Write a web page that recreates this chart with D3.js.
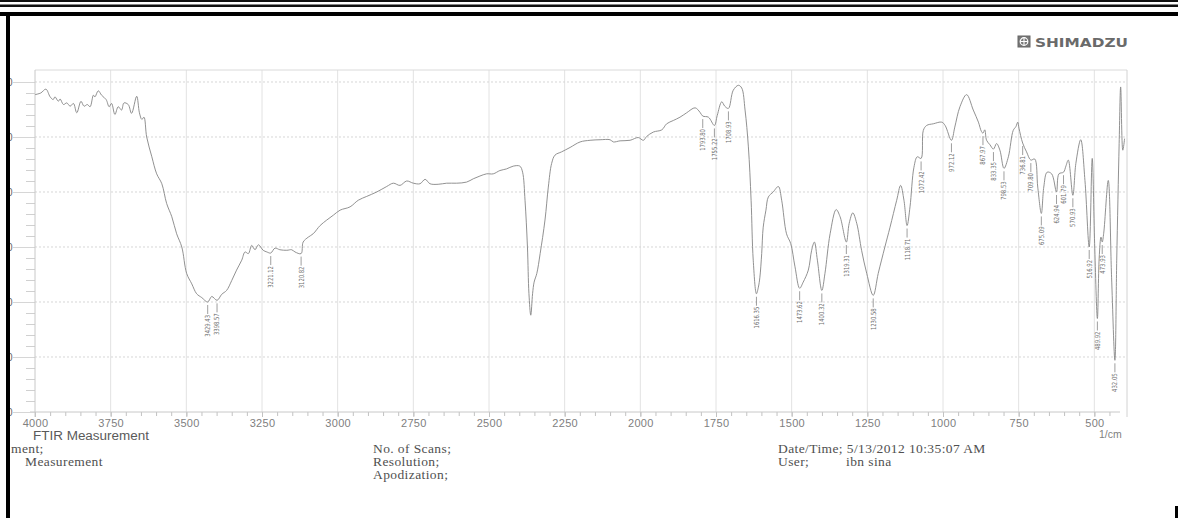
<!DOCTYPE html>
<html>
<head>
<meta charset="utf-8">
<script src="https://cdn.jsdelivr.net/npm/d3@7"></script>
<style>
  html, body { margin: 0; padding: 0; background: #fff; }
  svg { display: block; }
</style>
</head>
<body>
<svg id="chart" width="1178" height="518"></svg>
<script>
// FTIR transmittance spectrum (wavenumber in 1/cm, %T)
const wavenumbers = [
  4000, 3981, 3964, 3950, 3940, 3934, 3923, 3917, 3906, 3895, 3884, 3873, 3862, 3848, 3838, 3827,
  3818, 3807, 3802, 3791, 3780, 3765, 3755, 3747, 3736, 3725, 3714, 3706, 3692, 3681, 3664, 3655,
  3647, 3640, 3631, 3614, 3598, 3581, 3565, 3548, 3532, 3515, 3499, 3482, 3466, 3449, 3429.43, 3416,
  3398.57, 3383, 3367, 3350, 3334, 3317, 3306, 3295, 3284, 3273, 3262, 3246, 3234, 3221.12, 3207, 3191,
  3168, 3152, 3141, 3120.82, 3114, 3097, 3081, 3058, 3036, 3014, 2992, 2959, 2932, 2904, 2871, 2838,
  2816, 2794, 2772, 2750, 2728, 2711, 2695, 2668, 2640, 2607, 2574, 2552, 2530, 2508, 2486, 2464,
  2442, 2420, 2398, 2389, 2381, 2373, 2368, 2362, 2356, 2351, 2342, 2331, 2315, 2304, 2293, 2282,
  2260, 2232, 2199, 2166, 2133, 2100, 2089, 2067, 2034, 2007, 1990, 1979, 1957, 1929, 1913, 1891,
  1869, 1847, 1819, 1803, 1793.80, 1775, 1755.22, 1746, 1731, 1721, 1708.93, 1693, 1676, 1665, 1654, 1643,
  1634, 1627, 1616.35, 1610, 1605, 1599, 1594, 1585, 1577, 1561, 1544, 1533, 1517, 1503, 1489, 1473.62,
  1462, 1445, 1434, 1425, 1415, 1400.32, 1390, 1373, 1353, 1340, 1319.31, 1310, 1298, 1285, 1269, 1252,
  1230.58, 1214, 1192, 1175, 1153, 1140, 1129, 1118.71, 1109, 1096, 1085, 1072.42, 1065, 1054, 1032, 1004,
  993, 972.12, 961, 944, 922, 900, 883, 873, 867.97, 862, 856, 845, 833.35, 823, 812, 798.53,
  784, 768, 759, 753, 749, 736.81, 724, 709.80, 697, 687, 675.09, 667, 656, 641, 624.94, 617,
  601.79, 594, 586, 570.93, 561, 545, 531, 516.92, 507, 499, 489.92, 484, 478, 473.93, 469, 454,
  443, 432.05, 426, 418, 413, 406, 400
];
const transmittance = [
  57.7, 58.0, 58.7, 57.3, 56.8, 57.3, 56.5, 56.9, 55.9, 56.2, 55.6, 56.1, 54.4, 56.5, 55.6, 55.9,
  55.5, 57.6, 57.3, 58.4, 57.6, 56.8, 55.5, 56.1, 54.1, 55.5, 54.9, 56.2, 55.9, 54.3, 57.4, 54.4,
  53.2, 53.6, 50.0, 46.4, 43.3, 41.5, 37.9, 35.5, 32.4, 30.0, 25.2, 23.3, 21.5, 20.8, 20.0, 21.0,
  20.3, 21.4, 22.1, 23.9, 25.8, 27.6, 29.1, 28.8, 30.3, 29.5, 30.4, 29.4, 29.1, 28.9, 29.8, 29.5,
  29.4, 29.5, 29.1, 28.8, 30.9, 31.8, 32.4, 33.9, 34.9, 35.8, 36.7, 37.3, 38.5, 39.2, 40.0, 41.0,
  41.6, 41.2, 42.0, 41.6, 41.5, 42.3, 41.5, 41.4, 41.6, 41.6, 41.8, 42.4, 42.9, 43.3, 43.3, 43.9,
  44.2, 44.7, 44.7, 43.6, 38.5, 30.0, 21.5, 17.6, 21.5, 23.6, 25.2, 28.8, 34.9, 40.9, 45.2, 46.7,
  47.3, 48.1, 49.1, 49.4, 49.5, 49.5, 49.1, 49.3, 49.4, 49.9, 49.4, 50.1, 50.9, 51.3, 52.4, 53.0,
  53.6, 54.4, 55.3, 54.5, 53.8, 53.6, 52.1, 53.9, 56.4, 55.6, 55.2, 58.5, 59.4, 58.9, 54.9, 48.2,
  38.5, 27.6, 21.5, 22.7, 24.5, 28.8, 33.6, 36.7, 39.1, 40.0, 41.0, 38.5, 32.4, 30.6, 26.4, 22.5,
  23.6, 25.8, 29.4, 30.9, 27.6, 22.1, 25.2, 32.4, 36.8, 35.5, 30.9, 34.3, 36.2, 34.3, 29.4, 25.2,
  21.2, 25.2, 30.0, 33.6, 38.5, 41.2, 38.5, 33.9, 37.3, 44.5, 46.4, 46.1, 51.2, 52.1, 52.4, 52.7,
  52.1, 49.4, 51.8, 55.5, 57.7, 54.9, 52.7, 51.0, 50.7, 51.3, 49.4, 48.6, 47.8, 48.8, 47.6, 44.3,
  46.4, 51.2, 51.9, 52.7, 51.6, 48.9, 47.3, 45.8, 46.0, 40.9, 36.1, 40.9, 43.6, 43.3, 40.0, 43.3,
  43.6, 44.7, 45.8, 39.4, 45.2, 49.5, 42.1, 30.0, 46.1, 30.6, 17.0, 28.0, 31.8, 30.9, 32.5, 42.1,
  24.5, 9.4, 27.6, 48.8, 59.1, 47.6, 49.7
];
// picked peaks (labelled wavenumbers)
const peakWavenumbers = [
  3429.43, 3398.57, 3221.12, 3120.82, 1793.80, 1755.22, 1708.93, 1616.35, 1473.62, 1400.32,
  1319.31, 1230.58, 1118.71, 1072.42, 972.12, 867.97, 833.35, 798.53, 736.81, 709.80,
  675.09, 624.94, 601.79, 570.93, 516.92, 489.92, 473.93, 432.05
];
const xMajorTicks = [4000, 3750, 3500, 3250, 3000, 2750, 2500, 2250, 2000, 1750, 1500, 1250, 1000, 750, 500];
const yMajorTicks = [0, 10, 20, 30, 40, 50, 60];
const xUnitLabel = "1/cm";
const measurementTitle = "FTIR Measurement";
const infoLeft = ["ment;", "Measurement"];
const infoMiddle = ["No. of Scans;", "Resolution;", "Apodization;"];
const infoRight = ["Date/Time; 5/13/2012 10:35:07 AM", "User;"];
const userName = "ibn sina";
const brandName = "SHIMADZU";

const svg = d3.select("#chart");
const plot = { left: 35, right: 1127, top: 70, bottom: 412 };

const x = d3.scaleLinear().domain([4000, 400]).range([plot.left, 1124.6]);
const y = d3.scaleLinear().domain([0, 62.18]).range([plot.bottom, plot.top]);

// page border strokes
svg.append("rect").attr("x", 0).attr("y", 0).attr("width", 1178).attr("height", 2).attr("fill", "#111");
svg.append("rect").attr("x", 0).attr("y", 4.5).attr("width", 1178).attr("height", 2.5).attr("fill", "#111");
svg.append("rect").attr("x", 0).attr("y", 12).attr("width", 1178).attr("height", 4).attr("fill", "#000");
svg.append("rect").attr("x", 1175).attr("y", 506).attr("width", 3).attr("height", 12).attr("fill", "#000");

// brand logo
const logo = svg.append("g").attr("transform", "translate(1018,36)");
logo.append("rect").attr("width", 12).attr("height", 11).attr("fill", "#777").attr("stroke", "#666");
logo.append("circle").attr("cx", 6).attr("cy", 5.5).attr("r", 3.8).attr("fill", "none").attr("stroke", "#fff").attr("stroke-width", 1.2);
logo.append("line").attr("x1", 6).attr("x2", 6).attr("y1", 1.7).attr("y2", 9.3).attr("stroke", "#fff").attr("stroke-width", 1.1);
logo.append("line").attr("x1", 2.2).attr("x2", 9.8).attr("y1", 5.5).attr("y2", 5.5).attr("stroke", "#fff").attr("stroke-width", 1.1);
svg.append("text").attr("x", 1035).attr("y", 47)
  .attr("font-family", "DejaVu Sans, sans-serif").attr("font-weight", "bold").attr("font-size", 12.5)
  .attr("fill", "#6a6a6a").attr("textLength", 93).attr("lengthAdjust", "spacingAndGlyphs")
  .text(brandName);

// grid
const grid = svg.append("g");
grid.selectAll("line.v").data(xMajorTicks.slice(1)).join("line")
  .attr("x1", d => x(d)).attr("x2", d => x(d))
  .attr("y1", plot.top).attr("y2", plot.bottom)
  .attr("stroke", "#e2e2e2").attr("stroke-width", 1);
grid.selectAll("line.h").data(yMajorTicks.slice(1)).join("line")
  .attr("x1", plot.left).attr("x2", plot.right)
  .attr("y1", d => y(d)).attr("y2", d => y(d))
  .attr("stroke", "#d6d6d6").attr("stroke-width", 1).attr("stroke-dasharray", "2,2");

// frame
svg.append("line").attr("x1", plot.left).attr("x2", plot.right).attr("y1", plot.top).attr("y2", plot.top).attr("stroke", "#dadada");
svg.append("line").attr("x1", plot.right).attr("x2", plot.right).attr("y1", plot.top).attr("y2", 417).attr("stroke", "#d2d2d2");

// x axis: minor ticks every 50, major labels every 250
const xMinor = svg.append("g").attr("transform", `translate(0,${plot.bottom})`)
  .call(d3.axisBottom(x).tickValues(d3.range(4000, 449, -50)).tickSize(4).tickFormat(""));
xMinor.select(".domain").remove();
xMinor.selectAll("line").attr("stroke", "#c2c2c2");
const xMajor = svg.append("g").attr("transform", `translate(0,${plot.bottom})`)
  .call(d3.axisBottom(x).tickValues(xMajorTicks).tickSize(5).tickPadding(2.5).tickFormat(d3.format("d")));
xMajor.select(".domain").remove();
xMajor.selectAll("line").attr("stroke", "#c2c2c2");
xMajor.selectAll("text").attr("fill", "#808080").attr("font-size", 11)
  .attr("font-family", "Liberation Sans, Arial, sans-serif").attr("letter-spacing", 0.3);
svg.append("line").attr("x1", 30).attr("x2", 1120).attr("y1", plot.bottom).attr("y2", plot.bottom).attr("stroke", "#c8c8c8");

// y axis: clipped at the page border
svg.append("clipPath").attr("id", "yclip").append("rect").attr("x", 10).attr("y", 20).attr("width", 40).attr("height", 420);
const yAxisG = svg.append("g").attr("clip-path", "url(#yclip)");
const yMinor = yAxisG.append("g").attr("transform", `translate(${plot.left},0)`)
  .call(d3.axisLeft(y).tickValues(d3.range(2, 62, 2)).tickSize(9).tickFormat(""));
yMinor.select(".domain").remove();
yMinor.selectAll("line").attr("stroke", "#d0d0d0");
const yMajor = yAxisG.append("g").attr("transform", `translate(${plot.left},0)`)
  .call(d3.axisLeft(y).tickValues(yMajorTicks).tickSize(22).tickPadding(0.5).tickFormat(d3.format("d")));
yMajor.select(".domain").remove();
yMajor.selectAll("line").attr("stroke", "#d6d6d6");
yMajor.selectAll("text").attr("fill", "#666").attr("font-size", 10)
  .attr("font-family", "Liberation Sans, Arial, sans-serif");
svg.append("line").attr("x1", plot.left).attr("x2", plot.left).attr("y1", plot.top).attr("y2", 417).attr("stroke", "#c8c8c8");

// left page border
svg.append("rect").attr("x", 6).attr("y", 12).attr("width", 4).attr("height", 506).attr("fill", "#000");

// spectrum
const points = wavenumbers.map((w, i) => ({ w, t: transmittance[i] }));
svg.append("path").datum(points)
  .attr("d", d3.line().x(d => x(d.w)).y(d => y(d.t)).curve(d3.curveCatmullRom.alpha(0.5)))
  .attr("fill", "none").attr("stroke", "#858585").attr("stroke-width", 0.9);

// peak markers with rotated wavenumber labels
const peaks = peakWavenumbers.map(w => points.find(p => p.w === w));
const pk = svg.append("g");
pk.selectAll("line").data(peaks).join("line")
  .attr("x1", d => x(d.w)).attr("x2", d => x(d.w))
  .attr("y1", d => y(d.t) + 3).attr("y2", d => y(d.t) + 12)
  .attr("stroke", "#858585").attr("stroke-width", 0.8);
pk.selectAll("text").data(peaks).join("text")
  .attr("transform", d => `translate(${x(d.w)},${y(d.t) + 13}) rotate(-90)`)
  .attr("text-anchor", "end").attr("dy", "0.35em")
  .attr("font-family", "Liberation Sans Narrow, DejaVu Sans Condensed, sans-serif")
  .attr("font-size", 7).attr("fill", "#707070")
  .attr("textLength", d => d.w.toFixed(2).length * 3.1)
  .attr("lengthAdjust", "spacingAndGlyphs")
  .text(d => d.w.toFixed(2));

// axis captions
svg.append("text").attr("x", 1099).attr("y", 438).attr("fill", "#808080").attr("font-size", 10.5)
  .attr("font-family", "Liberation Sans, Arial, sans-serif").text(xUnitLabel);
svg.append("text").attr("x", 33).attr("y", 440).attr("fill", "#5a5a5a").attr("font-size", 12)
  .attr("font-family", "Liberation Sans, Arial, sans-serif")
  .attr("textLength", 116).attr("lengthAdjust", "spacingAndGlyphs").text(measurementTitle);

// report information block
const serif = "Liberation Serif, Times New Roman, serif";
const info = svg.append("g").attr("font-family", serif).attr("font-size", 13.5)
  .attr("letter-spacing", 0.4).attr("fill", "#505050");
info.selectAll("text.l").data(infoLeft).join("text")
  .attr("x", (d, i) => i === 0 ? 11 : 25).attr("y", (d, i) => 453 + i * 13).text(d => d);
info.selectAll("text.m").data(infoMiddle).join("text")
  .attr("x", 373).attr("y", (d, i) => 453 + i * 13).text(d => d);
info.selectAll("text.r").data(infoRight).join("text")
  .attr("x", 778).attr("y", (d, i) => 453 + i * 13).text(d => d);
info.append("text").attr("x", 846).attr("y", 466).text(userName);
</script>
</body>
</html>
